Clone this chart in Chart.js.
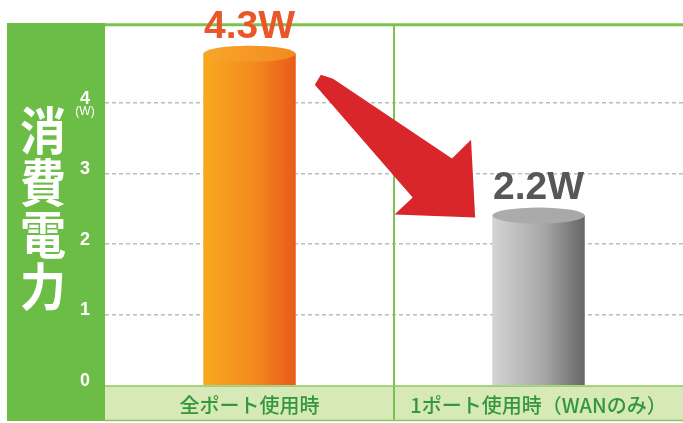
<!DOCTYPE html>
<html><head><meta charset="utf-8">
<script src="https://cdn.jsdelivr.net/npm/chart.js@4/dist/chart.umd.min.js"></script>
<style>html,body{margin:0;padding:0;background:#fff}#wrap{width:683px;height:423px;position:relative}</style>
</head><body><div id="wrap"><canvas id="c" width="683" height="423"></canvas></div>
<script>
const categories = ['全ポート使用時', '1ポート使用時（WANのみ）'];
const powerValues = [4.3, 2.2];
const valueLabels = ['4.3W', '2.2W'];
const tickValues = [0, 1, 2, 3, 4];
const axisTitle = ['消', '費', '電', '力'];
const unitLabel = '(W)';

const barColors = [
  {left:'#f8a91f', mid:'#f38a1f', right:'#e95a1b', top:'#f8a62c', label:'#e8562a'},
  {left:'#d4d4d4', mid:'#a8a8a8', right:'#666666', top:'#acacac', label:'#575757'}
];
const GREEN = '#6cbd46';

const decor = {
  id:'decor',
  beforeDraw(chart){
    const {ctx, chartArea:a} = chart;
    ctx.save();
    ctx.fillStyle='#fff'; ctx.fillRect(0,0,chart.width,chart.height);
    ctx.fillStyle=GREEN; ctx.fillRect(7,23,a.left-7,chart.height-2-23);
    ctx.fillStyle='#d6e9b6'; ctx.fillRect(a.left,a.bottom+1,a.right-a.left,35);
    ctx.restore();
  },
  afterDatasetsDraw(chart){
    const {ctx, chartArea:a} = chart;
    const meta = chart.getDatasetMeta(0);
    ctx.save();
    meta.data.forEach((el,i)=>{
      const c = barColors[i];
      const l = el.x-el.width/2, r = el.x+el.width/2;
      const g = ctx.createLinearGradient(l,0,r,0);
      g.addColorStop(0,c.left); g.addColorStop(0.55,c.mid); g.addColorStop(1,c.right);
      ctx.fillStyle=g;
      ctx.fillRect(l, el.y, el.width, el.base-el.y);
      const g2 = ctx.createLinearGradient(l,0,r,0);
      g2.addColorStop(0,c.top); g2.addColorStop(1,c.mid);
      ctx.fillStyle=g2;
      ctx.beginPath(); ctx.ellipse(el.x, el.y, el.width/2, 8, 0, 0, Math.PI*2); ctx.fill();
    });
    const xs = chart.scales.x;
    const mid = (xs.getPixelForValue(0)+xs.getPixelForValue(1))/2;
    ctx.strokeStyle='#7cc24e'; ctx.lineWidth=2;
    ctx.beginPath(); ctx.moveTo(mid,a.top); ctx.lineTo(mid,a.bottom+35); ctx.stroke();
    ctx.strokeStyle='#8cc663'; ctx.lineWidth=1.5;
    ctx.beginPath(); ctx.moveTo(a.left,a.bottom+1); ctx.lineTo(a.right,a.bottom+1); ctx.stroke();
    ctx.beginPath(); ctx.moveTo(a.left,a.bottom+35.5); ctx.lineTo(a.right,a.bottom+35.5); ctx.stroke();
    ctx.strokeStyle='#7cc24e'; ctx.lineWidth=3;
    ctx.beginPath(); ctx.moveTo(a.left,a.top-1); ctx.lineTo(a.right,a.top-1); ctx.stroke();
    const b1 = meta.data[0], b2 = meta.data[1];
    const x0 = b1.x+b1.width/2, y0 = b1.y, dx = (b2.x-b2.width/2)-x0, dy = b2.y-y0;
    const pts = [[0.128,0.13],[0.19,0.154],[0.795,0.648],[0.892,0.531],[0.913,1.012],[0.503,0.994],[0.595,0.889],[0.097,0.191]];
    ctx.fillStyle='#d9262b';
    ctx.beginPath();
    pts.forEach((p,k)=>{const X=x0+p[0]*dx, Y=y0+p[1]*dy; k?ctx.lineTo(X,Y):ctx.moveTo(X,Y);});
    ctx.closePath(); ctx.fill();
    ctx.font='bold 39px "Liberation Sans", Arial, sans-serif';
    ctx.textAlign='center'; ctx.textBaseline='middle';
    meta.data.forEach((el,i)=>{
      ctx.fillStyle=barColors[i].label;
      ctx.fillText(valueLabels[i], el.x, el.y-27);
    });
    ctx.fillStyle='#fff';
    ctx.font='bold 46px "Noto Sans CJK JP", sans-serif';
    const cy = (a.top+a.bottom)/2 + 3, step=52;
    axisTitle.forEach((ch,k)=>{
      ctx.save();
      ctx.translate(43, cy + (k-(axisTitle.length-1)/2)*step);
      ctx.scale(1, 1.12);
      ctx.fillText(ch, 0, 0);
      ctx.restore();
    });
    const ys = chart.scales.y2;
    ctx.font='12px "Liberation Sans", Arial, sans-serif';
    ctx.fillText(unitLabel, 85, ys.getPixelForValue(4)+9);
    ctx.restore();
  }
};

new Chart(document.getElementById('c'), {
  type:'bar',
  data:{labels:categories, datasets:[{data:powerValues, yAxisID:'y', backgroundColor:'rgba(0,0,0,0)', borderWidth:0, categoryPercentage:1, barPercentage:0.32}]},
  options:{
    responsive:false, animation:false, devicePixelRatio:1,
    layout:{padding:{top:25,left:0,right:0,bottom:0}},
    plugins:{legend:{display:false}, tooltip:{enabled:false}},
    scales:{
      x:{
        grid:{display:false}, border:{display:false},
        ticks:{color:'#33983d', font:{family:'"Noto Sans CJK JP", sans-serif', size:20, weight:'500'}, padding:0, maxRotation:0, autoSkip:false},
        afterFit(s){ s.height = 38; }
      },
      y:{ display:false, min:0, max:4.663 },
      y2:{
        position:'left', min:0, max:5.094,
        afterBuildTicks(s){ s.ticks = tickValues.map(v=>({value:v})); },
        afterFit(s){ s.width = 105; },
        grid:{drawTicks:false, color:(c)=> c.tick && c.tick.value===0 ? 'rgba(0,0,0,0)' : '#bdbdbd', lineWidth:1.5},
        border:{display:false, dash:[4,3]},
        ticks:{color:'#fff', font:{family:'"Liberation Sans", Arial, sans-serif', size:18, weight:'bold'}, padding:15, labelOffset:-4}
      }
    }
  },
  plugins:[decor]
});
</script></body></html>
